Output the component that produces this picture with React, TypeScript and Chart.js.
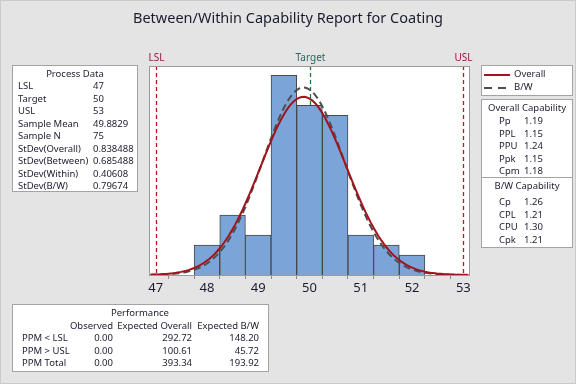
import React, { useEffect, useRef } from "react";
import { Chart, registerables } from "chart.js";

Chart.register(...registerables);

// ---------- data ----------
const binCenters = [48, 48.5, 49, 49.5, 50, 50.5, 51, 51.5, 52];
const binCounts = [3, 6, 4, 20, 17, 16, 4, 3, 2];
const binWidth = 0.5;
const xTickLabels = [47, 48, 49, 50, 51, 52, 53];

const LSL = 47;
const TARGET = 50;
const USL = 53;
const sampleMean = 49.8829;
const sampleN = 75;
const sdOverall = 0.838488;
const sdBW = 0.79674;

const processLabels = ["LSL", "Target", "USL", "Sample Mean", "Sample N", "StDev(Overall)", "StDev(Between)", "StDev(Within)", "StDev(B/W)"];
const processValues = ["47", "50", "53", "49.8829", "75", "0.838488", "0.685488", "0.40608", "0.79674"];

const overallCapLabels = ["Pp", "PPL", "PPU", "Ppk", "Cpm"];
const overallCapValues = ["1.19", "1.15", "1.24", "1.15", "1.18"];
const bwCapLabels = ["Cp", "CPL", "CPU", "Cpk"];
const bwCapValues = ["1.26", "1.21", "1.30", "1.21"];

const perfHeaders = ["Observed", "Expected Overall", "Expected B/W"];
const perfRowLabels = ["PPM < LSL", "PPM > USL", "PPM Total"];
const perfObserved = ["0.00", "0.00", "0.00"];
const perfExpOverall = ["292.72", "100.61", "393.34"];
const perfExpBW = ["148.20", "45.72", "193.92"];

// fitted normal curve (scaled to histogram counts) from the reported mean / stdev
function normalCurve(mean: number, sd: number) {
  const pts: { x: number; y: number }[] = [];
  for (let i = 0; i <= 124; i++) {
    const x = 46.9 + i * 0.05;
    const z = (x - mean) / sd;
    const y = (sampleN * binWidth) / (sd * Math.sqrt(2 * Math.PI)) * Math.exp(-0.5 * z * z);
    pts.push({ x, y });
  }
  return pts;
}

const FONT = "'Noto Sans', 'DejaVu Sans', sans-serif";
const TEXT = "#1c1c30";

const specPlugin = {
  id: "specLines",
  beforeDraw(chart: any) {
    const { ctx, chartArea: a } = chart;
    ctx.save();
    ctx.fillStyle = "#ffffff";
    ctx.fillRect(a.left, a.top, a.right - a.left, a.bottom - a.top);
    ctx.restore();
  },
  beforeDatasetsDraw(chart: any) {
    const { ctx, chartArea: a, scales } = chart;
    const x = scales.x;
    const specs = [
      { v: LSL, label: "LSL", line: "#c0141e", text: "#8c1c44" },
      { v: TARGET, label: "Target", line: "#1e7a3a", text: "#2a6660" },
      { v: USL, label: "USL", line: "#c0141e", text: "#8c1c44" },
    ];
    ctx.save();
    for (const s of specs) {
      const px = Math.round(x.getPixelForValue(s.v)) + 0.5;
      ctx.strokeStyle = s.line;
      ctx.lineWidth = 1.3;
      ctx.setLineDash([4, 3]);
      ctx.beginPath();
      ctx.moveTo(px, a.top);
      ctx.lineTo(px, a.bottom);
      ctx.stroke();
      ctx.setLineDash([]);
      ctx.fillStyle = s.text;
      ctx.font = `10px ${FONT}`;
      ctx.textAlign = "center";
      ctx.textBaseline = "middle";
      ctx.fillText(s.label, px, a.top - 8);
    }
    ctx.restore();
  },
  afterDraw(chart: any) {
    const { ctx, chartArea: a } = chart;
    ctx.save();
    ctx.strokeStyle = "#9a9a9a";
    ctx.lineWidth = 1;
    ctx.strokeRect(Math.round(a.left) + 0.5, Math.round(a.top) + 0.5, Math.round(a.right - a.left), Math.round(a.bottom - a.top));
    ctx.restore();
  },
};

function ChartCanvas() {
  const ref = useRef<HTMLCanvasElement>(null);
  useEffect(() => {
    if (!ref.current) return;
    const chart = new Chart(ref.current, {
      type: "bar",
      data: {
        datasets: [
          {
            type: "line",
            label: "B/W",
            data: normalCurve(sampleMean, sdBW),
            borderColor: "#4d4d4d",
            borderWidth: 2,
            borderDash: [7, 4],
            pointRadius: 0,
            tension: 0,
            order: 1,
          } as any,
          {
            type: "line",
            label: "Overall",
            data: normalCurve(sampleMean, sdOverall),
            borderColor: "#a0141c",
            borderWidth: 2,
            pointRadius: 0,
            tension: 0,
            order: 0,
          } as any,
          {
            type: "bar",
            label: "Histogram",
            data: binCenters.map((c, i) => ({ x: c, y: binCounts[i] })),
            backgroundColor: "#7ba5d8",
            borderColor: "#474747",
            borderWidth: 1,
            barPercentage: 1,
            categoryPercentage: 1,
            order: 2,
          } as any,
        ],
      },
      options: {
        animation: false,
        responsive: false,
        devicePixelRatio: 1,
        layout: { padding: { left: 149, right: 107, top: 66, bottom: 0 } },
        plugins: { legend: { display: false }, tooltip: { enabled: false }, title: { display: false } },
        scales: {
          x: {
            type: "linear",
            min: 46.87,
            max: 53.11,
            offset: false,
            grid: { drawOnChartArea: false, drawTicks: true, tickLength: 4, color: "#8a8a8a" },
            border: { display: false },
            afterBuildTicks: (s: any) => {
              const t: any[] = [];
              for (let v = xTickLabels[0]; v <= xTickLabels[xTickLabels.length - 1] + 1e-9; v += 0.5) t.push({ value: v });
              s.ticks = t;
            },
            afterFit: (s: any) => {
              s.height = 109;
            },
            ticks: {
              autoSkip: false,
              maxRotation: 0,
              padding: 1,
              color: TEXT,
              font: { family: FONT, size: 13 },
              callback: (v: any) => (xTickLabels.includes(Number(v)) ? String(v) : ""),
            },
          },
          y: { display: false, min: 0, max: 20.93 },
        },
      },
      plugins: [specPlugin],
    });
    return () => chart.destroy();
  }, []);
  return <canvas ref={ref} width={576} height={384} style={{ position: "absolute", left: 0, top: 0, width: 576, height: 384 }} />;
}

const T = (props: { x: number; y: number; text: string; align?: "left" | "right" | "center"; bold?: boolean; size?: number; w?: number }) => {
  const w = props.w ?? 200;
  const align = props.align ?? "left";
  let left = props.x;
  if (align === "right") left = props.x - w;
  if (align === "center") left = props.x - w / 2;
  return (
    <div
      style={{
        position: "absolute",
        left,
        top: props.y - 10,
        width: w,
        height: 20,
        lineHeight: "20px",
        textAlign: align,
        fontSize: props.size ?? 9.5,
        fontWeight: props.bold ? "bold" : "normal",
        whiteSpace: "nowrap",
        color: TEXT,
      }}
    >
      {props.text}
    </div>
  );
};

const Box = (props: { x: number; y: number; w: number; h: number }) => (
  <div style={{ position: "absolute", left: props.x, top: props.y, width: props.w, height: props.h, background: "#ffffff", border: "1px solid #a3a3a3", boxSizing: "border-box" }} />
);

export default function App() {
  const procRows = [86, 98.5, 111, 123.5, 136, 148.5, 161, 173.5, 186];
  const ovRows = [121, 133.5, 146, 158.5, 171];
  const bwRows = [202, 214.5, 227, 239.5];
  const perfRows = [338, 350.5, 363];
  return (
    <div style={{ position: "fixed", left: 0, top: 0, width: 576, height: 384, background: "#e4e4e4", border: "1px solid #cbcbcb", boxSizing: "border-box", fontFamily: FONT, overflow: "hidden" }}>
      <div style={{ position: "absolute", left: -1, top: -1, width: 576, height: 384 }}>
        <Box x={12} y={65} w={126} h={127} />
        <Box x={481} y={65} w={92} h={31} />
        <Box x={481} y={99} w={92} h={149} />
        <div style={{ position: "absolute", left: 482, top: 177, width: 90, height: 1, background: "#a3a3a3" }} />
        <Box x={12} y={304} w={257} h={68} />
        <ChartCanvas />
        <T x={288} y={17} text="Between/Within Capability Report for Coating" align="center" size={14.5} w={500} />

        <T x={75} y={74} text="Process Data" align="center" w={120} />
        {processLabels.map((l, i) => (
          <T key={"pl" + i} x={18} y={procRows[i]} text={l} />
        ))}
        {processValues.map((v, i) => (
          <T key={"pv" + i} x={93} y={procRows[i]} text={v} w={45} />
        ))}

        <div style={{ position: "absolute", left: 484, top: 73.5, width: 26, height: 2, background: "#a0141c" }} />
        <div style={{ position: "absolute", left: 484, top: 86.5, width: 8, height: 2, background: "#4d4d4d" }} />
        <div style={{ position: "absolute", left: 498, top: 86.5, width: 8, height: 2, background: "#4d4d4d" }} />
        <T x={514} y={74} text="Overall" w={55} />
        <T x={514} y={87} text="B/W" w={55} />

        <T x={527} y={108} text="Overall Capability" align="center" w={92} />
        {overallCapLabels.map((l, i) => (
          <T key={"ol" + i} x={499} y={ovRows[i]} text={l} w={30} />
        ))}
        {overallCapValues.map((v, i) => (
          <T key={"ov" + i} x={524} y={ovRows[i]} text={v} w={40} />
        ))}
        <T x={527} y={186} text="B/W Capability" align="center" w={92} />
        {bwCapLabels.map((l, i) => (
          <T key={"bl" + i} x={499} y={bwRows[i]} text={l} w={30} />
        ))}
        {bwCapValues.map((v, i) => (
          <T key={"bv" + i} x={524} y={bwRows[i]} text={v} w={40} />
        ))}

        <T x={140} y={313} text="Performance" align="center" w={120} />
        <T x={113} y={326} text={perfHeaders[0]} align="right" w={80} />
        <T x={192} y={326} text={perfHeaders[1]} align="right" w={90} />
        <T x={259} y={326} text={perfHeaders[2]} align="right" w={80} />
        {perfRowLabels.map((l, i) => (
          <React.Fragment key={"pr" + i}>
            <T x={22} y={perfRows[i]} text={l} w={70} />
            <T x={113} y={perfRows[i]} text={perfObserved[i]} align="right" w={60} />
            <T x={192} y={perfRows[i]} text={perfExpOverall[i]} align="right" w={60} />
            <T x={259} y={perfRows[i]} text={perfExpBW[i]} align="right" w={60} />
          </React.Fragment>
        ))}
      </div>
    </div>
  );
}
